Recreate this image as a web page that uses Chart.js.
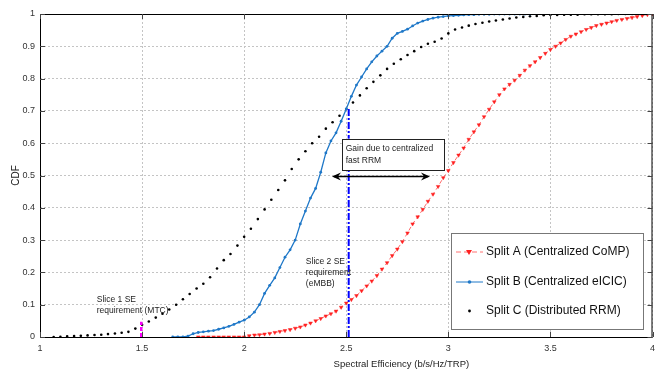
<!DOCTYPE html>
<html>
<head>
<meta charset="utf-8">
<script src="https://cdn.jsdelivr.net/npm/chart.js@4.4.1/dist/chart.umd.min.js"></script>
<style>
  html, body { margin: 0; padding: 0; background: #fff; }
  #graf-cdf { display: block; }
</style>
</head>
<body>
<canvas id="graf-cdf" width="657" height="372"></canvas>
<script>
// series A - Centralized CoMP (red)
var splitAx = [1.775,1.8,1.825,1.85,1.875,1.9,1.925,1.95,1.975,2.0,
  2.025,2.05,2.075,2.1,2.125,2.15,2.175,2.2,2.225,2.25,2.275,2.3,2.325,2.35,2.375,2.4,2.425,2.45,2.475,2.5,
  2.525,2.55,2.575,2.6,2.625,2.65,2.675,2.7,2.725,2.75,2.775,2.8,2.825,2.85,2.875,2.9,2.925,2.95,2.975,3.0,
  3.025,3.05,3.075,3.1,3.125,3.15,3.175,3.2,3.225,3.25,3.275,3.3,3.325,3.35,3.375,3.4,3.425,3.45,3.475,3.5,
  3.525,3.55,3.575,3.6,3.625,3.65,3.675,3.7,3.725,3.75,3.775,3.8,3.825,3.85,3.875,3.9,3.925,3.95,3.975,4.0]
var splitAy = [0,0,0,0,0,0,0,0,0,0,
  0.004,0.006,0.007,0.009,0.011,0.014,0.017,0.020,0.023,0.027,0.031,0.037,0.043,0.050,0.057,0.065,0.072,0.080,0.092,0.105,
  0.116,0.128,0.143,0.158,0.173,0.190,0.210,0.230,0.252,0.272,0.295,0.322,0.350,0.372,0.395,0.420,0.442,0.466,0.493,0.515,
  0.540,0.563,0.585,0.612,0.635,0.657,0.682,0.705,0.728,0.750,0.768,0.782,0.795,0.810,0.826,0.840,0.852,0.865,0.878,0.890,
  0.900,0.910,0.921,0.931,0.938,0.945,0.952,0.958,0.964,0.968,0.972,0.976,0.980,0.983,0.986,0.989,0.992,0.995,0.998,1.000]

// series B - Centralized eICIC (blue)
var splitBx = [1.65,1.675,1.7,1.725,1.75,1.775,1.8,1.825,1.85,1.875,1.9,1.925,1.95,1.975,2.0,
  2.025,2.05,2.075,2.1,2.125,2.15,2.175,2.2,2.225,2.25,2.275,2.3,2.325,2.35,2.375,2.4,2.425,2.45,2.475,2.5,
  2.525,2.55,2.575,2.6,2.625,2.65,2.675,2.7,2.725,2.75,2.775,2.8,2.825,2.85,2.875,2.9,2.925,2.95,2.975,3.0,
  3.025,3.05,3.075,3.1,3.125,3.15,3.175,3.2,3.225,3.25,3.275,3.3,3.325,3.35,3.375,3.4]
var splitBy = [0,0,0,0.003,0.010,0.014,0.016,0.018,0.020,0.024,0.028,0.033,0.039,0.046,0.052,
  0.062,0.077,0.100,0.135,0.160,0.183,0.215,0.247,0.270,0.300,0.350,0.390,0.430,0.460,0.510,0.570,0.607,0.632,0.668,0.706,
  0.745,0.780,0.805,0.830,0.852,0.870,0.885,0.900,0.925,0.940,0.946,0.953,0.963,0.972,0.978,0.983,0.987,0.990,0.992,0.994,
  0.995,0.996,0.997,0.998,0.998,0.999,0.999,0.999,1,1,1,1,1,1,1,1]

// series C - Distributed RRM (black dots)
var splitCx = [1.067,1.1,1.133,1.167,1.2,1.233,1.267,1.3,1.333,1.367,1.4,1.433,1.467,1.5,
  1.533,1.567,1.6,1.633,1.667,1.7,1.733,1.767,1.8,1.833,1.867,1.9,1.933,1.967,2.0,
  2.033,2.067,2.1,2.133,2.167,2.2,2.233,2.267,2.3,2.333,2.367,2.4,2.433,2.467,2.5,
  2.533,2.567,2.6,2.633,2.667,2.7,2.733,2.767,2.8,2.833,2.867,2.9,2.933,2.967,3.0,
  3.033,3.067,3.1,3.133,3.167,3.2,3.233,3.267,3.3,3.333,3.367,3.4,3.433,3.467,3.5,
  3.533,3.567,3.6,3.633,3.667,3.7,3.733,3.767,3.8,3.833,3.867,3.9,3.933,3.967,4.0]
var splitCy = [0,0.001,0.002,0.003,0.004,0.005,0.006,0.007,0.009,0.011,0.013,0.016,0.026,0.038,
  0.048,0.060,0.072,0.085,0.100,0.117,0.133,0.150,0.165,0.185,0.212,0.238,0.257,0.283,0.310,
  0.335,0.365,0.395,0.425,0.455,0.485,0.520,0.550,0.575,0.600,0.620,0.645,0.665,0.685,0.706,
  0.726,0.748,0.770,0.790,0.810,0.830,0.846,0.860,0.873,0.885,0.898,0.908,0.914,0.924,0.940,
  0.952,0.958,0.964,0.969,0.973,0.977,0.980,0.983,0.986,0.989,0.991,0.993,0.994,0.996,0.997,
  0.997,0.998,0.998,0.998,0.999,0.999,0.999,0.999,0.999,1,1,1,1,1,1]

var seriesLabels = ['Split A (Centralized CoMP)', 'Split B (Centralized eICIC)', 'Split C (Distributed RRM)']

// slice requirement lines (x = SE requirement, y = top of line)
var slice1X = [1.496, 1.496]
var slice1Y = [0, 0.047]
var slice2X = [2.512, 2.512]
var slice2Y = [0, 0.71]

var fonte = "'Liberation Sans', Arial, sans-serif"

function pares(xs, ys){
    var out = []
    xs.forEach(function(v, i){ out.push({x: v, y: ys[i]}) })
    return out
}

// rotulo no estilo matlab: 1, 1.5, 0.1 ...
function rotulo(v){
    return String(Math.round(v * 10) / 10)
}

/**
 * desenha moldura, ticks internos, textos, seta e legenda
 */
var decoracao = {
    id: 'decoracao',
    afterDatasetsDraw: function(chart){
        var ctx = chart.ctx
        var a = chart.chartArea
        var sx = chart.scales.x
        var sy = chart.scales.y
        ctx.save()

        // moldura
        ctx.strokeStyle = '#000'
        ctx.lineWidth = 1
        ctx.strokeRect(a.left + 0.5, a.top + 0.5, a.right - a.left - 1, a.bottom - a.top)

        // ticks internos
        ctx.strokeStyle = '#444'
        ctx.beginPath()
        sx.ticks.forEach(function(t){
            var px = Math.round(sx.getPixelForValue(t.value)) + 0.5
            ctx.moveTo(px, a.bottom); ctx.lineTo(px, a.bottom - 5)
            ctx.moveTo(px, a.top); ctx.lineTo(px, a.top + 5)
        })
        sy.ticks.forEach(function(t){
            var py = Math.round(sy.getPixelForValue(t.value)) + 0.5
            ctx.moveTo(a.left, py); ctx.lineTo(a.left + 5, py)
            ctx.moveTo(a.right, py); ctx.lineTo(a.right - 5, py)
        })
        ctx.stroke()

        // textos das fatias
        ctx.fillStyle = '#222'
        ctx.font = '8.5px ' + fonte
        ctx.textBaseline = 'middle'
        ctx.textAlign = 'left'
        ctx.fillText('Slice 1 SE', sx.getPixelForValue(1.278), sy.getPixelForValue(0.115))
        ctx.fillText('requirement (MTC)', sx.getPixelForValue(1.278), sy.getPixelForValue(0.081))
        ctx.fillText('Slice 2 SE', sx.getPixelForValue(2.302), sy.getPixelForValue(0.233))
        ctx.fillText('requirement', sx.getPixelForValue(2.302), sy.getPixelForValue(0.199))
        ctx.fillText('(eMBB)', sx.getPixelForValue(2.302), sy.getPixelForValue(0.165))

        // caixa do ganho
        var bx1 = sx.getPixelForValue(2.478), bx2 = sx.getPixelForValue(2.98)
        var by1 = sy.getPixelForValue(0.614), by2 = sy.getPixelForValue(0.518)
        ctx.fillStyle = '#fff'
        ctx.fillRect(bx1, by1, bx2 - bx1, by2 - by1)
        ctx.strokeStyle = '#222'
        ctx.lineWidth = 1
        ctx.strokeRect(Math.round(bx1) + 0.5, Math.round(by1) + 0.5, Math.round(bx2 - bx1), Math.round(by2 - by1))
        ctx.fillStyle = '#222'
        ctx.fillText('Gain due to centralized', bx1 + 4, by1 + 10)
        ctx.fillText('fast RRM', bx1 + 4, by1 + 22)

        // seta dupla
        var ax1 = sx.getPixelForValue(2.43), ax2 = sx.getPixelForValue(2.91), ay = Math.round(sy.getPixelForValue(0.5)) + 0.5
        ctx.strokeStyle = '#000'
        ctx.lineWidth = 1.5
        ctx.beginPath(); ctx.moveTo(ax1 + 2, ay); ctx.lineTo(ax2 - 2, ay); ctx.stroke()
        ctx.fillStyle = '#000'
        ctx.beginPath(); ctx.moveTo(ax1, ay); ctx.lineTo(ax1 + 9, ay - 4); ctx.lineTo(ax1 + 6, ay); ctx.lineTo(ax1 + 9, ay + 4); ctx.closePath(); ctx.fill()
        ctx.beginPath(); ctx.moveTo(ax2, ay); ctx.lineTo(ax2 - 9, ay - 4); ctx.lineTo(ax2 - 6, ay); ctx.lineTo(ax2 - 9, ay + 4); ctx.closePath(); ctx.fill()

        ctx.restore()
    },
    afterDraw: function(chart){
        var ctx = chart.ctx
        var a = chart.chartArea
        ctx.save()

        // titulos dos eixos
        ctx.fillStyle = '#222'
        ctx.font = '9.5px ' + fonte
        ctx.textAlign = 'center'
        ctx.textBaseline = 'middle'
        ctx.fillText('Spectral Efficiency (b/s/Hz/TRP)', chart.scales.x.getPixelForValue(2.77), 364)
        ctx.translate(16, (a.top + a.bottom) / 2)
        ctx.rotate(-Math.PI / 2)
        ctx.font = '10px ' + fonte
        ctx.fillText('CDF', 0, 0)
        ctx.restore()

        // legenda
        ctx.save()
        var lx = 451, ly = 233, lw = 192, lh = 96
        ctx.fillStyle = '#fff'
        ctx.fillRect(lx, ly, lw, lh)
        ctx.strokeStyle = '#777'
        ctx.lineWidth = 1
        ctx.strokeRect(lx + 0.5, ly + 0.5, lw, lh)

        var linhas = [ly + 19, ly + 49, ly + 78]
        // A
        ctx.strokeStyle = '#ff7070'
        ctx.setLineDash([5, 3])
        ctx.beginPath(); ctx.moveTo(456, linhas[0]); ctx.lineTo(483, linhas[0]); ctx.stroke()
        ctx.setLineDash([])
        ctx.fillStyle = '#ff2020'
        ctx.beginPath(); ctx.moveTo(466, linhas[0] - 2); ctx.lineTo(472, linhas[0] - 2); ctx.lineTo(469, linhas[0] + 3); ctx.closePath(); ctx.fill()
        // B
        ctx.strokeStyle = '#1f78c8'
        ctx.beginPath(); ctx.moveTo(456, linhas[1]); ctx.lineTo(483, linhas[1]); ctx.stroke()
        ctx.fillStyle = '#1f78c8'
        ctx.beginPath(); ctx.arc(469.5, linhas[1], 1.8, 0, Math.PI * 2); ctx.fill()
        // C
        ctx.fillStyle = '#000'
        ctx.beginPath(); ctx.arc(469.5, linhas[2], 1.4, 0, Math.PI * 2); ctx.fill()

        ctx.fillStyle = '#111'
        ctx.font = '12px ' + fonte
        ctx.textAlign = 'left'
        ctx.textBaseline = 'middle'
        seriesLabels.forEach(function(txt, i){ ctx.fillText(txt, 486, linhas[i]) })
        ctx.restore()
    }
}

function gerarGraficoCdf(){
    try{
        new Chart(document.getElementById('graf-cdf').getContext('2d'), {
            type: 'scatter',
            data: {
                datasets: [
                    {
                        label: 'slice2', data: pares(slice2X, slice2Y), showLine: true,
                        borderColor: '#0000ff', borderWidth: 2, borderDash: [7, 2, 2, 2], pointRadius: 0
                    },
                    {
                        label: 'slice1', data: pares(slice1X, slice1Y), showLine: true,
                        borderColor: '#ff00ff', borderWidth: 2.5, borderDash: [4, 2], pointRadius: 0
                    },
                    {
                        label: seriesLabels[0], data: pares(splitAx, splitAy), showLine: true,
                        borderColor: 'rgba(255,90,90,0.9)', borderWidth: 1, borderDash: [4, 3],
                        pointStyle: 'triangle', rotation: 180, pointRadius: 2.1,
                        pointBackgroundColor: '#ff2020', pointBorderColor: '#ff2020', pointBorderWidth: 0.5
                    },
                    {
                        label: seriesLabels[1], data: pares(splitBx, splitBy), showLine: true,
                        borderColor: '#1f78c8', borderWidth: 1.3,
                        pointStyle: 'circle', pointRadius: 1.4,
                        pointBackgroundColor: '#1f78c8', pointBorderColor: '#1f78c8', pointBorderWidth: 0
                    },
                    {
                        label: seriesLabels[2], data: pares(splitCx, splitCy), showLine: false,
                        pointStyle: 'circle', pointRadius: 1.3,
                        pointBackgroundColor: '#000', pointBorderColor: '#000', pointBorderWidth: 0
                    }
                ]
            },
            options: {
                responsive: false,
                animation: false,
                layout: { padding: { top: 14, right: 2, left: 0, bottom: 0 } },
                plugins: { legend: { display: false }, tooltip: { enabled: false } },
                scales: {
                    x: {
                        type: 'linear', min: 1, max: 4,
                        afterFit: function(s){ s.height = 35; s.paddingLeft = 0; s.paddingRight = 0 },
                        ticks: { stepSize: 0.5, padding: 6, color: '#333', font: { family: fonte, size: 9 }, callback: rotulo },
                        grid: { color: '#c4c4c4', drawTicks: false },
                        border: { display: false, dash: [2, 2] }
                    },
                    y: {
                        min: 0, max: 1,
                        afterFit: function(s){ s.width = 40; s.paddingTop = 0; s.paddingBottom = 0 },
                        ticks: { stepSize: 0.1, padding: 5, color: '#333', font: { family: fonte, size: 9 }, callback: rotulo },
                        grid: { color: '#c4c4c4', drawTicks: false },
                        border: { display: false, dash: [2, 2] }
                    }
                }
            },
            plugins: [decoracao]
        })
    }catch(e){ console.error(e) }
}

gerarGraficoCdf()
</script>
</body>
</html>
